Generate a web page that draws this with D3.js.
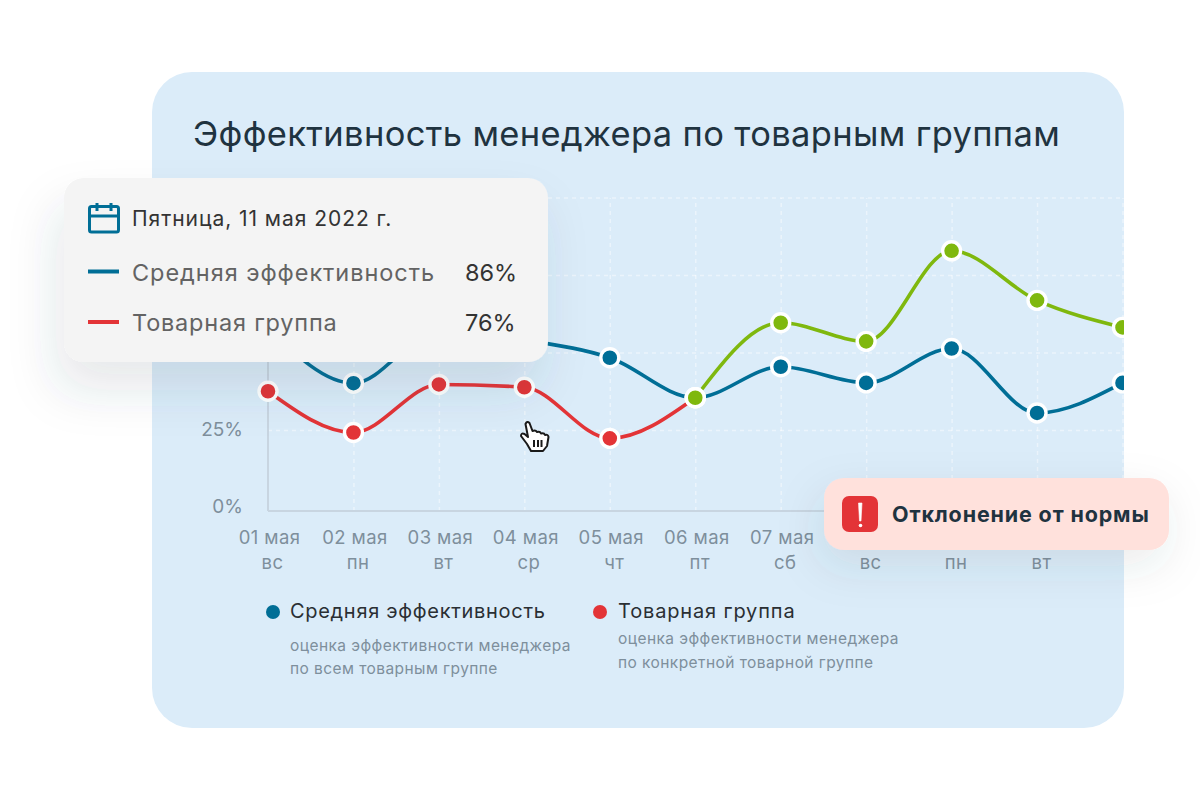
<!DOCTYPE html>
<html lang="ru"><head><meta charset="utf-8">
<script src="https://cdnjs.cloudflare.com/ajax/libs/d3/7.8.5/d3.min.js"></script>
<style>html,body{margin:0;padding:0;background:#fff}svg{display:block}text{font-family:Inter,"Noto Sans",sans-serif}</style>
</head><body><svg id="c" width="1200" height="800"></svg>
<script>
const days=["01 мая","02 мая","03 мая","04 мая","05 мая","06 мая","07 мая","08 мая","09 мая","10 мая","11 мая"];
const weekdays=["вс","пн","вт","ср","чт","пт","сб","вс","пн","вт","ср"];
const gridTicks=[25,50,75,100];
const yLabels=[0,25];
const avgValues=[58,40.1,57,54,48.3,35.4,45.4,40.2,51.3,30.5,40.2];
const groupValues=[37.5,24.2,39.7,38.8,22.3,35.4];
const deviationDays=["06 мая","07 мая","08 мая","09 мая","10 мая","11 мая"];
const deviationValues=[35.4,59.6,53.6,82.8,66.8,58.1];
const BLUE="#006e96",RED="#e33437",GREEN="#7fb80e",TICK="#7e8f9c";

const svg=d3.select("#c");
const defs=svg.append("defs");
defs.append("clipPath").attr("id","card").append("rect").attr("x",152).attr("y",72).attr("width",972).attr("height",656).attr("rx",40);
const f1=defs.append("filter").attr("id","sh1").attr("x","-30%").attr("y","-30%").attr("width","160%").attr("height","190%");
f1.append("feDropShadow").attr("dx",-8).attr("dy",28).attr("stdDeviation",24).attr("flood-color","#3a4654").attr("flood-opacity",.12);
const f2=defs.append("filter").attr("id","sh2").attr("x","-30%").attr("y","-60%").attr("width","160%").attr("height","260%");
f2.append("feDropShadow").attr("dx",-4).attr("dy",16).attr("stdDeviation",22).attr("flood-color","#3a4654").attr("flood-opacity",.1);

svg.append("rect").attr("x",152).attr("y",72).attr("width",972).attr("height",656).attr("rx",40).attr("fill","#dbecf9");
svg.append("text").attr("x",193).attr("y",146).attr("font-size",34.5).attr("fill","#1f3340").attr("letter-spacing",.35).text("Эффективность менеджера по товарным группам");

const x=d3.scalePoint().domain(days).range([268,1122.5]);
const y=d3.scaleLinear().domain([0,100]).range([507.5,197.5]);
const chart=svg.append("g").attr("clip-path","url(#card)");

// grid
const gridY=chart.append("g").attr("transform","translate(268,0)").call(d3.axisLeft(y).tickValues(gridTicks).tickSize(-856).tickFormat(""));
gridY.select(".domain").remove();
gridY.selectAll("line").attr("stroke","#fff").attr("stroke-opacity",.45).attr("stroke-width",1.5).attr("stroke-dasharray","4 4");
const gridX=chart.append("g").attr("transform","translate(0,511)").call(d3.axisBottom(x).tickSize(-313).tickFormat(""));
gridX.select(".domain").remove();
gridX.selectAll("line").attr("stroke","#fff").attr("stroke-opacity",.45).attr("stroke-width",1.5).attr("stroke-dasharray","4 4");
gridX.selectAll("line").filter(d=>d===days[0]).remove();

// axis lines
chart.append("line").attr("x1",268).attr("x2",268).attr("y1",y(100)).attr("y2",511).attr("stroke","#c8d5e1").attr("stroke-width",2);
chart.append("line").attr("x1",268).attr("x2",1124).attr("y1",511).attr("y2",511).attr("stroke","#c8d5e1").attr("stroke-width",2);

// y labels
const yAxis=svg.append("g").attr("transform","translate(243,0)").call(d3.axisLeft(y).tickValues(yLabels).tickSize(0).tickPadding(0).tickFormat(d=>d+"%"));
yAxis.select(".domain").remove();
yAxis.selectAll("text").attr("font-size",19).attr("fill",TICK).attr("dy","0.28em").style("font-family","Inter");

// x labels
const xAxis=svg.append("g").attr("transform","translate(0,511)").call(d3.axisBottom(x).tickValues(days.slice(0,10)).tickSize(0).tickPadding(0).tickFormat(""));
xAxis.select(".domain").remove();
xAxis.selectAll(".tick text").each(function(d){
  const t=d3.select(this).attr("y",0).attr("dy",null).attr("font-size",18.5).attr("letter-spacing",.4).attr("fill",TICK).style("font-family","Inter");
  t.append("tspan").attr("x",1).attr("y",33).text(d);
  t.append("tspan").attr("x",4).attr("y",58).text(weekdays[days.indexOf(d)]);
});

// lines
const line=d3.line().x(d=>x(d[0])).y(d=>y(d[1])).curve(d3.curveMonotoneX);
const series=[
 {v:avgValues.map((d,i)=>[days[i],d]),c:BLUE},
 {v:groupValues.map((d,i)=>[days[i],d]),c:RED},
 {v:deviationValues.map((d,i)=>[deviationDays[i],d]),c:GREEN}
];
chart.selectAll("path.s").data(series).join("path").attr("class","s").attr("fill","none").attr("stroke",d=>d.c).attr("stroke-width",3.6).attr("d",d=>line(d.v));
series.forEach(s=>{
  chart.append("g").selectAll("circle").data(s.v).join("circle").attr("cx",d=>x(d[0])).attr("cy",d=>y(d[1])).attr("r",9).attr("fill",s.c).attr("stroke","#fff").attr("stroke-width",3.4);
});

// legend
svg.append("circle").attr("cx",273).attr("cy",612).attr("r",7).attr("fill",BLUE);
svg.append("text").attr("x",290).attr("y",618).attr("font-size",20).attr("letter-spacing",.7).attr("fill","#2a2f33").text("Средняя эффективность");
svg.append("text").attr("x",290).attr("y",651).attr("font-size",15.5).attr("letter-spacing",.43).attr("fill",TICK).text("оценка эффективности менеджера");
svg.append("text").attr("x",290).attr("y",674).attr("font-size",15.5).attr("letter-spacing",.43).attr("fill",TICK).text("по всем товарным группе");
svg.append("circle").attr("cx",600).attr("cy",612).attr("r",7).attr("fill",RED);
svg.append("text").attr("x",618).attr("y",618).attr("font-size",20).attr("letter-spacing",.85).attr("fill","#2a2f33").text("Товарная группа");
svg.append("text").attr("x",618).attr("y",644).attr("font-size",15.5).attr("letter-spacing",.43).attr("fill",TICK).text("оценка эффективности менеджера");
svg.append("text").attr("x",618).attr("y",668).attr("font-size",15.5).attr("letter-spacing",.43).attr("fill",TICK).text("по конкретной товарной группе");

// cursor
const hand=svg.append("g").attr("stroke","#1a1a1a").attr("stroke-width",2).attr("stroke-linejoin","round");
hand.append("path").attr("fill","#fff").attr("d","M525.5 424Q527 420.5 529.5 423L532.5 431Q535.5 429.5 537 432Q540 431 541 433.5Q544 432.5 545 435Q548 434 548.5 437L547 446L543 451L531 451L527 444L521 436Q521 432.5 524.5 434L528 437Z");
hand.append("path").attr("fill","none").attr("d","M534 440V447M538 440V447M541.5 440V447");

// tooltip
const tip=svg.append("g");
tip.append("rect").attr("x",64).attr("y",178).attr("width",484).attr("height",184).attr("rx",20).attr("fill","#f4f4f4").attr("filter","url(#sh1)");
const cal=tip.append("g").attr("fill","none").attr("stroke",BLUE).attr("stroke-width",3);
cal.append("rect").attr("x",89.5).attr("y",206.5).attr("width",29).attr("height",25.5).attr("rx",2);
cal.append("path").attr("d","M89.5 216H118.5M97 203V211M111 203V211");
tip.append("text").attr("x",132).attr("y",226).attr("font-size",21).attr("letter-spacing",.95).attr("fill","#333").text("Пятница, 11 мая 2022 г.");
tip.append("line").attr("x1",88).attr("x2",119).attr("y1",271.5).attr("y2",271.5).attr("stroke",BLUE).attr("stroke-width",4);
tip.append("text").attr("x",132).attr("y",281).attr("font-size",23.5).attr("letter-spacing",.95).attr("fill","#636363").text("Средняя эффективность");
tip.append("text").attr("x",465).attr("y",281).attr("font-size",23.5).attr("fill","#333").text("86%");
tip.append("line").attr("x1",88).attr("x2",119).attr("y1",322).attr("y2",322).attr("stroke",RED).attr("stroke-width",4);
tip.append("text").attr("x",132).attr("y",331).attr("font-size",23.5).attr("letter-spacing",.8).attr("fill","#636363").text("Товарная группа");
tip.append("text").attr("x",465).attr("y",331).attr("font-size",23.5).attr("fill","#333").text("76%");

// badge
const badge=svg.append("g");
badge.append("rect").attr("x",824).attr("y",478).attr("width",345).attr("height",72).attr("rx",20).attr("fill","#ffe1dc").attr("filter","url(#sh2)");
badge.append("rect").attr("x",842).attr("y",496).attr("width",36).attr("height",36).attr("rx",7).attr("fill",RED);
badge.append("path").attr("d","M858.5 503H862L861 521H859.5Z").attr("fill","#fff").attr("stroke","#fff").attr("stroke-width",.6);
badge.append("circle").attr("cx",860.5).attr("cy",525.5).attr("r",1.8).attr("fill","#fff");
badge.append("text").attr("x",892).attr("y",522).attr("font-size",21.5).attr("font-weight",700).attr("letter-spacing",.85).attr("fill","#1f3340").text("Отклонение от нормы");
</script></body></html>
